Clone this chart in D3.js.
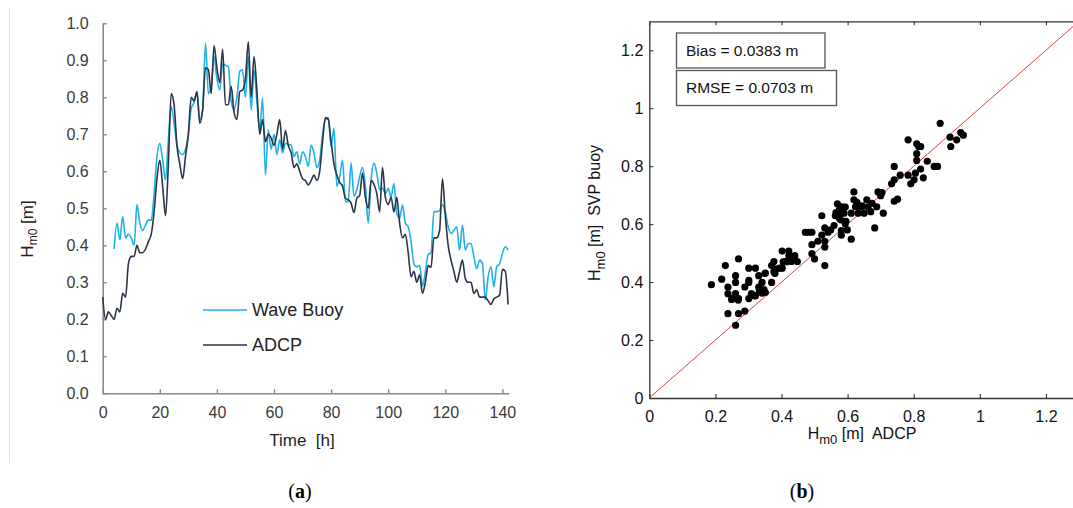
<!DOCTYPE html>
<html>
<head>
<meta charset="utf-8">
<script src="https://cdn.jsdelivr.net/npm/d3@7"></script>
<style>
  body { margin: 0; background: #fff; }
  svg { display: block; font-family: "Liberation Sans", Arial, sans-serif; }
</style>
</head>
<body>
<svg id="fig" width="1073" height="508"></svg>
<script>
// ---- data (a): hourly Hm0 time series
const adcpSeries = [
  0.26, 0.20, 0.22, 0.21, 0.20, 0.23, 0.22, 0.27, 0.26, 0.35,
  0.37, 0.37, 0.40, 0.38, 0.38, 0.39, 0.41, 0.43, 0.49, 0.58,
  0.63, 0.56, 0.48, 0.62, 0.81, 0.78, 0.67, 0.62, 0.58, 0.64,
  0.70, 0.80, 0.79, 0.815, 0.73, 0.765, 0.88, 0.875, 0.81, 0.94,
  0.88, 0.84, 0.93, 0.78, 0.78, 0.83, 0.76, 0.74, 0.815, 0.82,
  0.85, 0.95, 0.80, 0.91, 0.82, 0.70, 0.74, 0.68, 0.70, 0.69,
  0.67, 0.70, 0.74, 0.66, 0.71, 0.67, 0.65, 0.61, 0.62, 0.60,
  0.58, 0.575, 0.563, 0.575, 0.59, 0.575, 0.60, 0.68, 0.745, 0.74,
  0.68, 0.62, 0.59, 0.57, 0.56, 0.527, 0.523, 0.514, 0.488, 0.527,
  0.535, 0.595, 0.53, 0.50, 0.575, 0.565, 0.54, 0.49, 0.61, 0.53,
  0.51, 0.53, 0.49, 0.53, 0.46, 0.42, 0.43, 0.38, 0.315, 0.33,
  0.30, 0.32, 0.27, 0.30, 0.345, 0.34, 0.42, 0.42, 0.44, 0.58,
  0.48, 0.40, 0.36, 0.33, 0.30, 0.33, 0.36, 0.31, 0.30, 0.30,
  0.27, 0.28, 0.26, 0.26, 0.26, 0.25, 0.24, 0.255, 0.26, 0.265,
  0.335, 0.33, 0.24
];
const buoyStart = 4; // first hour with buoy data
const buoySeries = [
  0.39, 0.46, 0.415, 0.478, 0.42, 0.43, 0.42, 0.40, 0.51, 0.46,
  0.44, 0.455, 0.468, 0.468, 0.54, 0.64, 0.676, 0.63, 0.577, 0.685,
  0.775, 0.73, 0.67, 0.65, 0.645, 0.66, 0.70, 0.77, 0.785, 0.815,
  0.74, 0.766, 0.946, 0.81, 0.83, 0.91, 0.85, 0.82, 0.89, 0.887,
  0.883, 0.79, 0.766, 0.80, 0.87, 0.874, 0.80, 0.91, 0.766, 0.874,
  0.79, 0.712, 0.798, 0.59, 0.712, 0.66, 0.70, 0.645, 0.685, 0.65,
  0.676, 0.672, 0.671, 0.64, 0.653, 0.62, 0.653, 0.64, 0.613, 0.671,
  0.649, 0.61, 0.63, 0.70, 0.74, 0.745, 0.667, 0.716, 0.56, 0.585,
  0.63, 0.518, 0.518, 0.622, 0.532, 0.55, 0.586, 0.61, 0.56, 0.46,
  0.577, 0.622, 0.595, 0.55, 0.555, 0.54, 0.554, 0.53, 0.567, 0.486,
  0.473, 0.509, 0.46, 0.45, 0.41, 0.35, 0.342, 0.346, 0.29, 0.328,
  0.375, 0.38, 0.491, 0.491, 0.494, 0.51, 0.49, 0.45, 0.432, 0.44,
  0.45, 0.387, 0.455, 0.387, 0.405, 0.405, 0.37, 0.337, 0.36, 0.351,
  0.252, 0.315, 0.342, 0.288, 0.342, 0.35, 0.378, 0.396, 0.387
];
const timeTicks = [0, 20, 40, 60, 80, 100, 120, 140];
const hm0Ticks = [0, 0.1, 0.2, 0.3, 0.4, 0.5, 0.6, 0.7, 0.8, 0.9, 1.0];
const seriesNames = ["Wave Buoy", "ADCP"];

// ---- data (b): scatter ADCP vs SVP buoy
const scatterAdcp = [
  0.188, 0.219, 0.230, 0.238, 0.238, 0.238, 0.250, 0.261, 0.261, 0.261,
  0.261, 0.270, 0.270, 0.270, 0.289, 0.289, 0.301, 0.301, 0.301, 0.301,
  0.309, 0.321, 0.321, 0.331, 0.331, 0.335, 0.341, 0.341, 0.347, 0.351,
  0.351, 0.370, 0.370, 0.377, 0.377, 0.385, 0.394, 0.402, 0.402, 0.410,
  0.422, 0.422, 0.430, 0.440, 0.448, 0.472, 0.482, 0.492, 0.492, 0.492,
  0.500, 0.510, 0.522, 0.522, 0.531, 0.531, 0.531, 0.531, 0.541, 0.549,
  0.559, 0.563, 0.569, 0.571, 0.575, 0.579, 0.581, 0.581, 0.583, 0.589,
  0.593, 0.593, 0.599, 0.611, 0.611, 0.619, 0.619, 0.624, 0.628, 0.632,
  0.644, 0.650, 0.658, 0.662, 0.670, 0.674, 0.682, 0.688, 0.692, 0.700,
  0.704, 0.708, 0.733, 0.741, 0.741, 0.741, 0.751, 0.759, 0.783, 0.783,
  0.791, 0.801, 0.805, 0.809, 0.809, 0.809, 0.815, 0.821, 0.821, 0.829,
  0.841, 0.862, 0.872, 0.880, 0.910, 0.912, 0.930, 0.942, 0.950,
  0.249, 0.269, 0.309, 0.319, 0.333, 0.350, 0.380, 0.405, 0.415, 0.575,
  0.565, 0.595, 0.640
];
const scatterBuoy = [
  0.391, 0.410, 0.457, 0.383, 0.360, 0.291, 0.343, 0.422, 0.399, 0.360,
  0.251, 0.480, 0.343, 0.291, 0.383, 0.300, 0.448, 0.406, 0.399, 0.343,
  0.360, 0.448, 0.353, 0.422, 0.383, 0.371, 0.399, 0.362, 0.374, 0.431,
  0.364, 0.399, 0.457, 0.471, 0.436, 0.445, 0.448, 0.507, 0.448, 0.471,
  0.507, 0.491, 0.471, 0.491, 0.471, 0.572, 0.572, 0.572, 0.529, 0.498,
  0.480, 0.541, 0.629, 0.562, 0.587, 0.541, 0.521, 0.457, 0.572, 0.580,
  0.595, 0.629, 0.670, 0.638, 0.649, 0.615, 0.578, 0.562, 0.660, 0.638,
  0.659, 0.601, 0.580, 0.548, 0.638, 0.711, 0.684, 0.660, 0.675, 0.638,
  0.663, 0.638, 0.684, 0.660, 0.643, 0.672, 0.587, 0.660, 0.711, 0.698,
  0.709, 0.638, 0.739, 0.799, 0.753, 0.679, 0.686, 0.769, 0.891, 0.769,
  0.739, 0.753, 0.776, 0.877, 0.843, 0.820, 0.868, 0.790, 0.868, 0.760,
  0.817, 0.799, 0.799, 0.948, 0.900, 0.868, 0.891, 0.916, 0.907,
  0.340, 0.338, 0.357, 0.352, 0.372, 0.430, 0.430, 0.470, 0.470, 0.620,
  0.640, 0.610, 0.660
];
const statLabels = ["Bias = 0.0383 m", "RMSE = 0.0703 m"];
const scatterTicks = [0, 0.2, 0.4, 0.6, 0.8, 1, 1.2];

const svg = d3.select("#fig");

// faint frame line on the left of the figure
svg.append("line")
  .attr("x1", 9.5).attr("x2", 9.5).attr("y1", 8).attr("y2", 463)
  .attr("stroke", "#e2e2e2").attr("stroke-width", 1);

//* ---------- panel (a)
const xa = d3.scaleLinear().domain([0, 142.2]).range([102.7, 508.7]);
const ya = d3.scaleLinear().domain([0, 1]).range([393.3, 23.3]);

const gA = svg.append("g");

const axisColor = "#8a8a8a";
gA.append("g")
  .attr("transform", `translate(0,${ya(0)})`)
  .call(d3.axisBottom(xa).tickValues(timeTicks).tickSizeInner(-4).tickSizeOuter(0).tickPadding(13))
  .call(g => g.select(".domain").attr("stroke", axisColor).attr("stroke-width", 1.6))
  .call(g => g.selectAll(".tick line").attr("stroke", axisColor).attr("stroke-width", 1.4))
  .call(g => g.selectAll("text").attr("fill", "#3a3a3a").attr("font-size", 16).attr("font-family", "Liberation Sans, Arial"));

gA.append("g")
  .attr("transform", `translate(${xa(0)},0)`)
  .call(d3.axisLeft(ya).tickValues(hm0Ticks).tickFormat(d3.format(".1f")).tickSizeInner(-4).tickSizeOuter(0).tickPadding(14))
  .call(g => g.select(".domain").attr("stroke", axisColor).attr("stroke-width", 1.6))
  .call(g => g.selectAll(".tick line").attr("stroke", axisColor).attr("stroke-width", 1.4))
  .call(g => g.selectAll("text").attr("fill", "#3a3a3a").attr("font-size", 16).attr("font-family", "Liberation Sans, Arial"));

const lineA = d3.line()
  .x(d => xa(d[0]))
  .y(d => ya(d[1]))
  .curve(d3.curveMonotoneX);

const buoyPts = buoySeries.map((v, i) => [i + buoyStart, v]);
const adcpPts = adcpSeries.map((v, i) => [i, v]);

const colBuoy = "#1fb1ea";
const colAdcp = "#2a3547";

gA.append("path").datum(buoyPts)
  .attr("d", lineA).attr("fill", "none")
  .attr("stroke", colBuoy).attr("stroke-width", 1.6);
gA.append("path").datum(adcpPts)
  .attr("d", lineA).attr("fill", "none")
  .attr("stroke", colAdcp).attr("stroke-width", 1.6);

// legend
const legA = gA.append("g");
[colBuoy, colAdcp].forEach((c, i) => {
  const yy = 310 + i * 35;
  legA.append("line").attr("x1", 203).attr("x2", 247).attr("y1", yy).attr("y2", yy)
    .attr("stroke", c).attr("stroke-width", 1.6);
  legA.append("text").attr("x", 252).attr("y", yy).attr("dy", "0.35em")
    .attr("font-size", 18).attr("fill", "#222").text(seriesNames[i]);
});

// axis titles
gA.append("text")
  .attr("x", 302).attr("y", 446).attr("text-anchor", "middle")
  .attr("font-size", 17).attr("fill", "#222")
  .attr("xml:space", "preserve")
  .text("Time  [h]");

const yTitleA = gA.append("text")
  .attr("transform", "translate(33,229) rotate(-90)")
  .attr("text-anchor", "middle").attr("font-size", 17).attr("fill", "#222");
yTitleA.append("tspan").text("H");
yTitleA.append("tspan").attr("font-size", 12).attr("dy", 4).text("m0");
yTitleA.append("tspan").attr("dy", -4).text(" [m]");

//* ---------- panel (b)
const xb = d3.scaleLinear().domain([0, 1.3]).range([649.3, 1079]);
const yb = d3.scaleLinear().domain([0, 1.3]).range([398, 21.3]);

const gB = svg.append("g");
const bColor = "#333";

gB.append("defs").append("clipPath").attr("id", "clipB")
  .append("rect")
  .attr("x", xb(0)).attr("y", yb(1.3))
  .attr("width", xb(1.3) - xb(0)).attr("height", yb(0) - yb(1.3));

const styleB = g => {
  g.select(".domain").attr("stroke", bColor).attr("stroke-width", 1.3);
  g.selectAll(".tick line").attr("stroke", bColor).attr("stroke-width", 1.1);
  g.selectAll("text").attr("fill", "#111").attr("font-size", 16).attr("font-family", "Liberation Sans, Arial");
};

gB.append("g")
  .attr("transform", `translate(0,${yb(0)})`)
  .call(d3.axisBottom(xb).tickValues(scatterTicks).tickFormat(d3.format("~g")).tickSizeInner(-4).tickSizeOuter(0).tickPadding(13))
  .call(styleB);
gB.append("g")
  .attr("transform", `translate(0,${yb(1.3)})`)
  .call(d3.axisTop(xb).tickValues(scatterTicks).tickFormat("").tickSizeInner(-4).tickSizeOuter(0))
  .call(styleB);
gB.append("g")
  .attr("transform", `translate(${xb(0)},0)`)
  .call(d3.axisLeft(yb).tickValues(scatterTicks).tickFormat(d3.format("~g")).tickSizeInner(-4).tickSizeOuter(0).tickPadding(6))
  .call(styleB);

// 1:1 line
gB.append("line")
  .attr("clip-path", "url(#clipB)")
  .attr("x1", xb(0)).attr("y1", yb(0))
  .attr("x2", xb(1.3)).attr("y2", yb(1.3))
  .attr("stroke", "#f03a3a").attr("stroke-width", 1);

// points
gB.append("g")
  .selectAll("circle")
  .data(scatterAdcp.map((a, i) => [a, scatterBuoy[i]]))
  .join("circle")
  .attr("cx", d => xb(d[0]))
  .attr("cy", d => yb(d[1]))
  .attr("r", 3.6)
  .attr("fill", "#000");

// stat boxes
const boxes = [
  { x: 676.5, y: 33, w: 148.5, h: 35 },
  { x: 676.5, y: 70.5, w: 160, h: 35 }
];
boxes.forEach((b, i) => {
  gB.append("rect")
    .attr("x", b.x).attr("y", b.y).attr("width", b.w).attr("height", b.h)
    .attr("fill", "#fff").attr("stroke", "#555").attr("stroke-width", 1.3);
  gB.append("text")
    .attr("x", b.x + 9.5).attr("y", b.y + b.h / 2).attr("dy", "0.35em")
    .attr("font-size", 15.5).attr("fill", "#111").text(statLabels[i]);
});

// axis titles
const xTitleB = gB.append("text")
  .attr("x", 862).attr("y", 439).attr("text-anchor", "middle")
  .attr("font-size", 16).attr("fill", "#111").attr("xml:space", "preserve");
xTitleB.append("tspan").text("H");
xTitleB.append("tspan").attr("font-size", 13).attr("dy", 5).text("m0");
xTitleB.append("tspan").attr("dy", -5).text(" [m]  ADCP");

const yTitleB = gB.append("text")
  .attr("transform", "translate(600,213) rotate(-90)")
  .attr("text-anchor", "middle").attr("font-size", 16).attr("fill", "#111")
  .attr("xml:space", "preserve");
yTitleB.append("tspan").text("H");
yTitleB.append("tspan").attr("font-size", 13).attr("dy", 5).text("m0");
yTitleB.append("tspan").attr("dy", -5).text(" [m]  SVP buoy");

//* ---------- captions
const captions = [["a", 300], ["b", 802]];
captions.forEach(([c, cx]) => {
  const t = svg.append("text")
    .attr("x", cx).attr("y", 498).attr("text-anchor", "middle")
    .attr("font-family", "Liberation Serif, Times New Roman, serif")
    .attr("font-size", 20).attr("fill", "#000");
  t.append("tspan").text("(");
  t.append("tspan").attr("font-weight", "bold").text(c);
  t.append("tspan").text(")");
});
</script>
</body>
</html>
